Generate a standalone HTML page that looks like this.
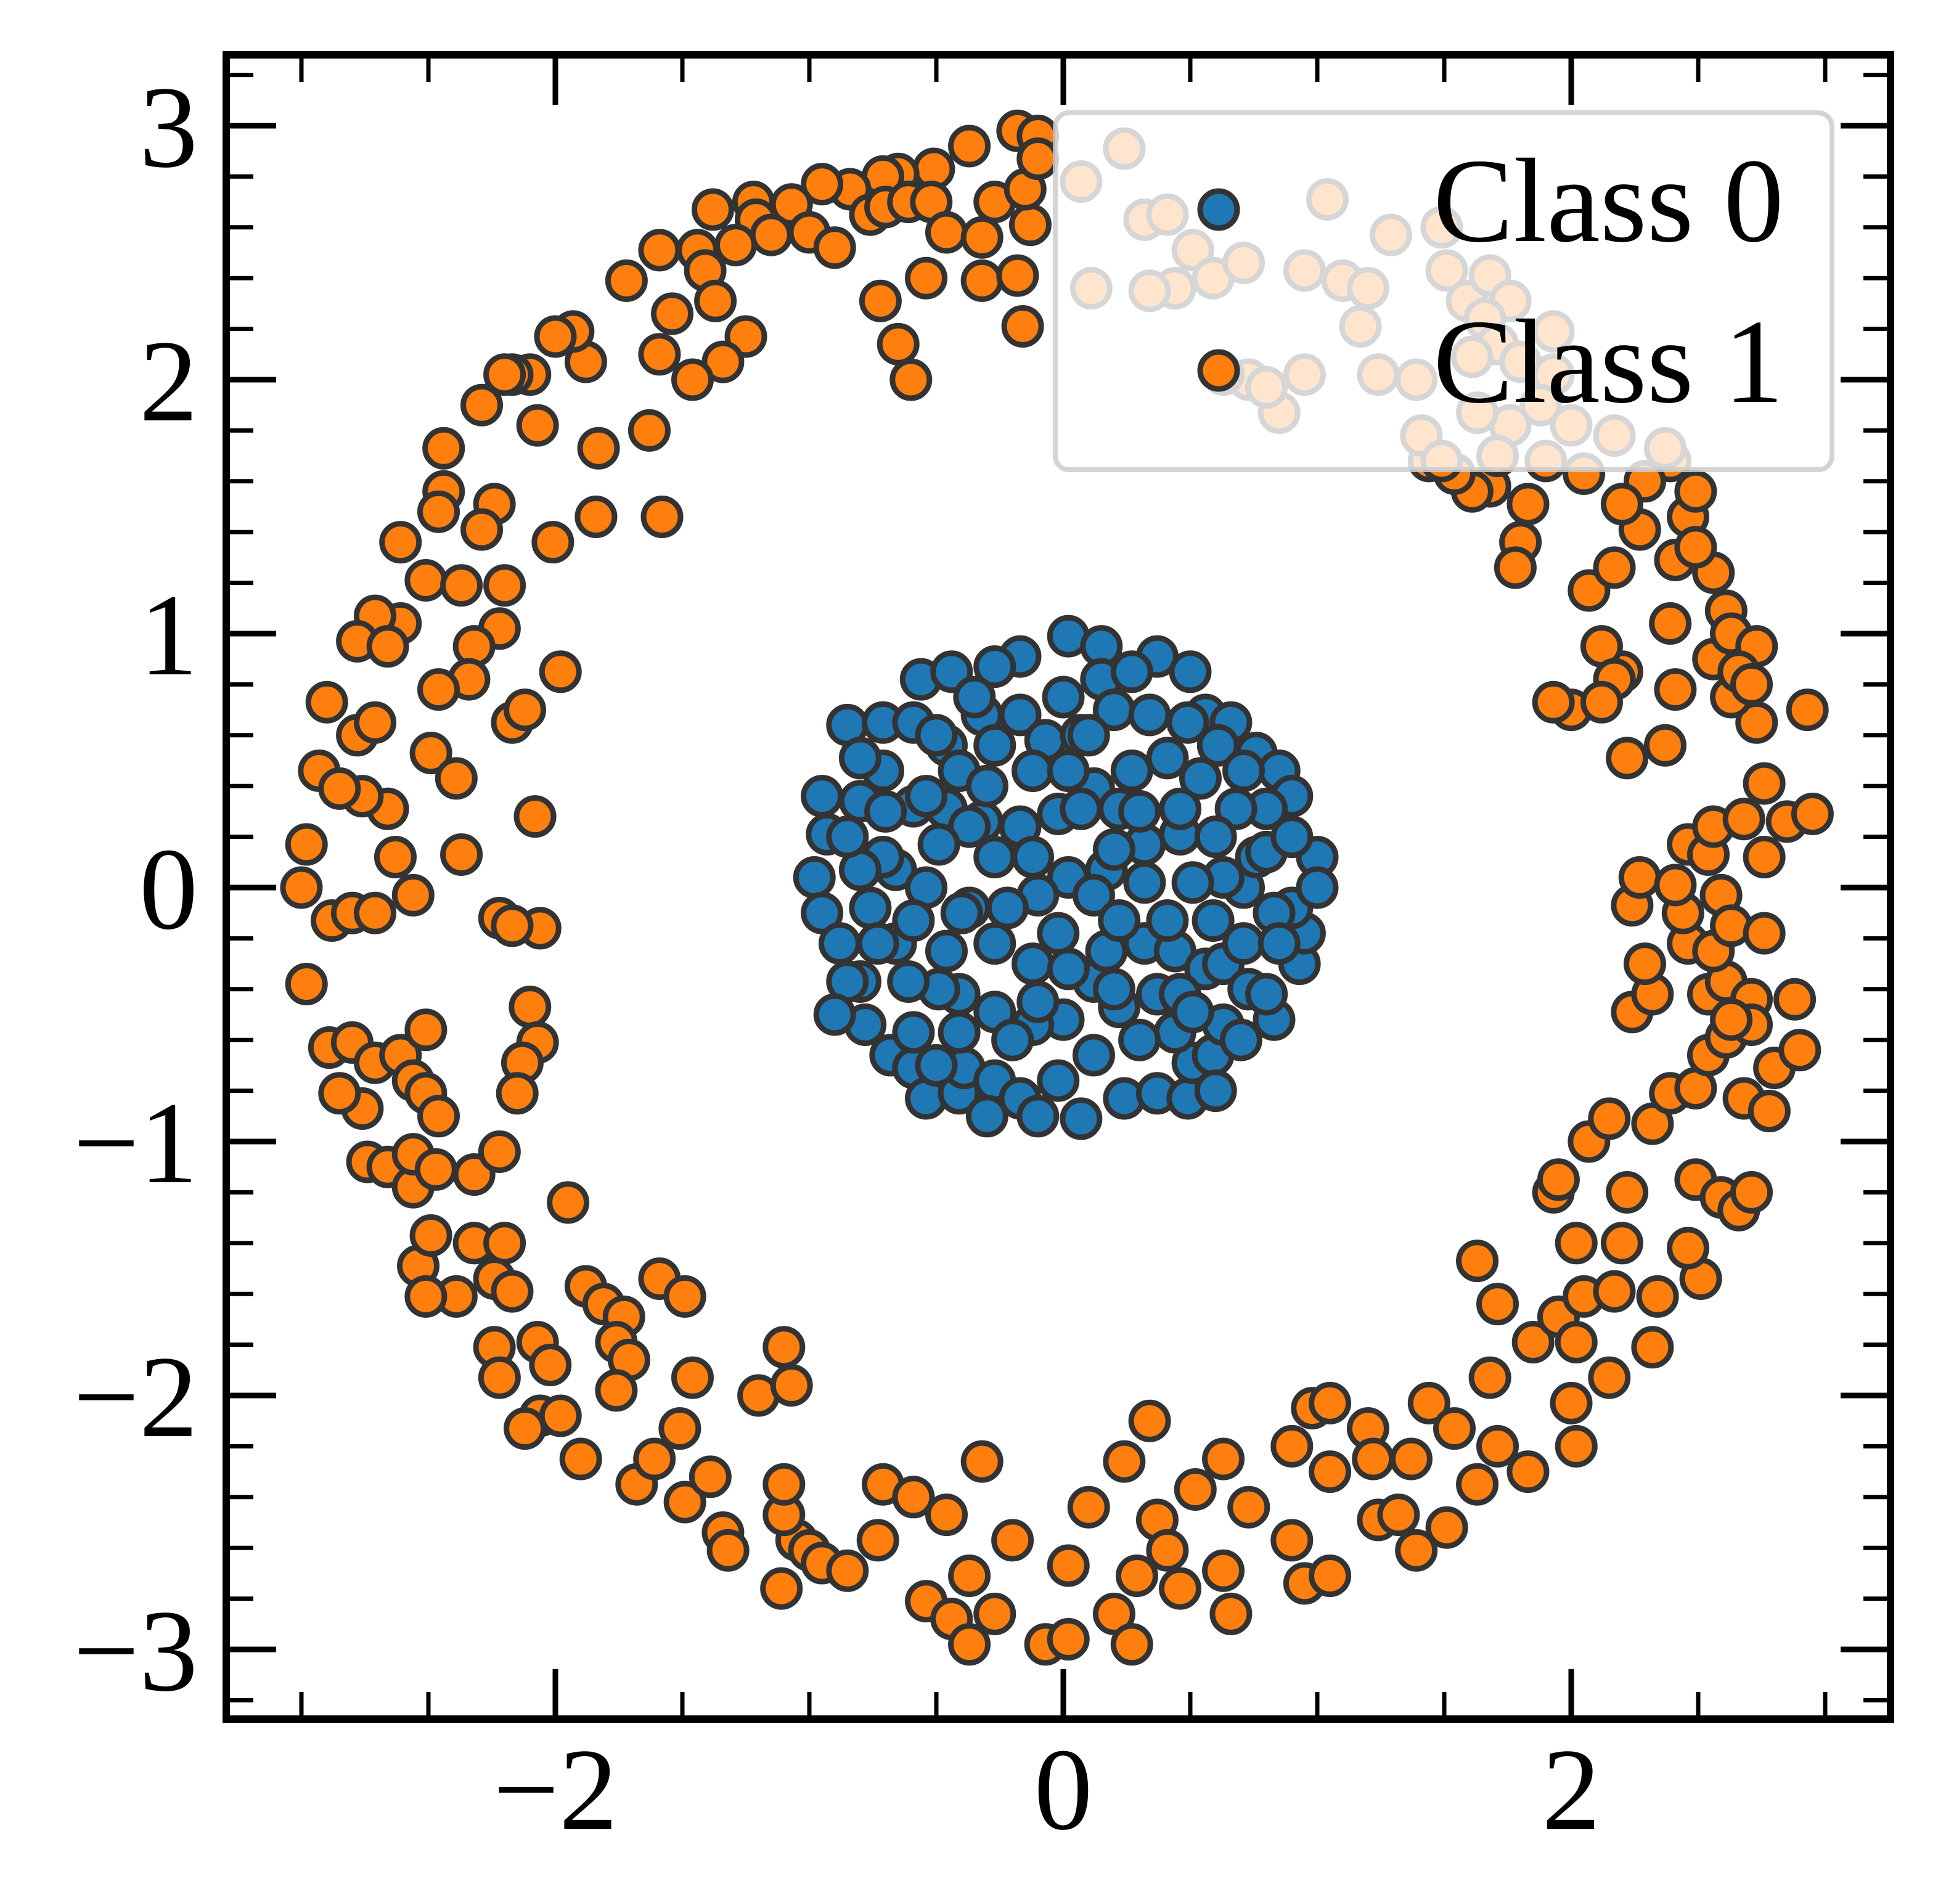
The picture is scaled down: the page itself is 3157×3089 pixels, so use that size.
<!DOCTYPE html>
<html><head><meta charset="utf-8"><style>html,body{margin:0;padding:0;background:#fff}svg{display:block}</style></head>
<body>
<svg id="chart" xmlns="http://www.w3.org/2000/svg" width="3157" height="3089" viewBox="0 0 3157 3089">
<rect width="3157" height="3089" fill="#fff"/>
<defs><clipPath id="clip"><rect x="367" y="89" width="2700" height="2700"/></clipPath></defs>
<g id="marks" clip-path="url(#clip)"></g>
<g id="axes"></g>
<g id="legend">
<rect x="1712" y="183" width="1260" height="579" rx="22" fill="#fff" fill-opacity="0.8" stroke="#cccccc" stroke-opacity="0.85" stroke-width="8"/>
<circle cx="1977" cy="340" r="30" fill="#1f77b4" stroke="#333" stroke-width="9"/>
<text x="2325" y="391" font-family="Liberation Serif, serif" font-size="195">Class 0</text>
<circle cx="1977" cy="601" r="30" fill="#ff7f0e" stroke="#333" stroke-width="9"/>
<text x="2325" y="652" font-family="Liberation Serif, serif" font-size="195">Class 1</text>
</g>
</svg>
<script>
const class0X=[0.37,-0.17,-0.27,-0.56,-0.44,0.02,0.15,0.15,0.27,-0.85,-0.71,-0.59,-0.46,-0.32,-0.17,-0.07,0.07,0.20,0.34,0.56,0.66,0.76,0.85,0.90,0.80,0.68,0.54,0.41,0.27,0.12,-0.02,-0.17,-0.32,-0.46,-0.59,-0.80,-0.95,-0.93,-0.98,-0.95,-0.88,-0.80,-0.78,-0.68,-0.59,-0.54,-0.41,-0.39,-0.27,-0.17,-0.02,0.07,0.24,0.37,0.49,0.51,0.59,0.44,0.37,0.22,0.12,0.00,-0.12,-0.27,-0.41,-0.49,-0.61,-0.66,-0.76,-0.66,-0.54,-0.37,-0.27,-0.12,0.02,0.17,0.32,0.44,0.56,0.63,0.73,0.83,0.93,0.95,0.90,0.83,0.71,0.63,0.76,0.80,1.00,1.00,0.46,0.32,0.17,0.02,-0.12,-0.27,-0.37,-0.49,-0.54,-0.71,-0.80,-0.71,-0.59,-0.46,0.12,0.22,0.41,0.51,0.32,0.59,0.46,0.71,0.85,-0.10,-0.22,-0.02,0.07,-0.12,-0.27,0.02,0.22,0.46,0.61,0.71,0.49,-0.41,-0.73,-0.80,-0.85,-0.59,-0.41,0.12,0.63,0.80,0.51,-0.30,0.10,-0.50,0.60,-0.20,0.30,-0.40,0.20,0.70,-0.70,0.50,-0.35,0.00,-0.85,-0.90,0.90,0.30,-0.10,0.60,-0.10,-0.30,0.20,-0.50];
const class0Y=[0.91,0.91,0.87,0.82,0.85,0.99,0.95,0.82,0.85,0.64,0.65,0.65,0.56,0.68,0.68,0.58,0.60,0.70,0.68,0.68,0.65,0.53,0.46,0.36,0.31,0.31,0.43,0.51,0.46,0.39,0.29,0.24,0.26,0.31,0.32,0.34,0.36,0.21,0.04,-0.10,-0.22,-0.37,-0.54,-0.66,-0.71,-0.83,-0.81,-0.71,-0.76,-0.83,-0.76,-0.91,-0.83,-0.81,-0.83,-0.69,-0.66,-0.57,-0.42,-0.47,-0.37,-0.52,-0.54,-0.49,-0.42,-0.40,-0.37,-0.22,-0.08,0.07,0.00,-0.08,-0.22,-0.30,-0.32,-0.25,-0.22,-0.25,-0.32,-0.30,-0.40,-0.52,-0.30,-0.18,-0.08,-0.10,0.00,0.04,0.12,0.14,0.12,0.00,0.21,0.17,0.07,0.04,0.12,0.12,0.24,0.17,0.36,0.46,0.51,0.12,-0.13,-0.25,-0.03,-0.13,-0.13,0.02,0.02,-0.13,-0.42,-0.22,-0.22,-0.03,-0.08,-0.18,0.31,0.46,0.56,0.46,0.31,0.31,0.56,0.46,0.65,0.46,-0.22,0.07,-0.37,-0.57,-0.57,-0.66,-0.54,-0.42,-0.49,0.40,0.60,0.60,0.20,-0.60,-0.60,-0.10,-0.40,-0.60,0.30,0.85,0.75,0.75,0.20,-0.50,0.20,0.30,-0.45,-0.80,-0.90,-0.90,0.15,-0.70];
const class1X=[-0.18,-0.10,-0.37,-0.51,-0.65,-0.71,-0.84,-0.95,-1.07,-1.22,-1.21,-1.15,-1.00,-0.90,-0.76,-0.70,-0.61,-0.52,-0.46,-0.32,-0.27,-0.13,-0.15,-0.10,-0.16,-0.60,-0.65,-0.72,-0.54,-0.32,-0.18,-1.38,-1.29,-1.44,-1.59,-1.72,-1.54,-1.41,-1.25,-1.37,-1.34,-1.46,-1.59,-1.63,-1.83,-1.88,-1.93,-2.00,-2.10,-2.17,-2.07,-2.29,-2.20,-2.44,-2.44,-2.46,-2.24,-2.29,-2.61,-2.51,-2.37,-2.20,-2.22,-2.32,-2.34,-2.46,-2.61,-2.71,-2.78,-2.66,-2.90,-2.93,-2.78,-2.71,-2.49,-2.39,-2.17,-2.12,-1.98,-1.84,-1.58,-2.01,-2.66,-2.63,-2.76,-2.85,-2.98,-3.00,-2.88,-2.80,-2.71,-2.56,-2.37,-2.08,-2.22,-2.06,-2.17,-2.98,-2.89,-2.80,-2.71,-2.61,-2.51,-2.56,-2.76,-2.85,-2.74,-2.66,-2.56,-2.51,-2.46,-2.56,-2.47,-2.32,-2.22,-2.10,-2.07,-2.13,-2.15,-1.95,-2.54,-2.49,-2.32,-2.20,-2.24,-2.17,-2.39,-2.51,-2.24,-2.22,-2.07,-2.02,-2.06,-2.12,-1.98,-1.90,-1.88,-1.81,-1.73,-1.76,-1.71,-1.76,-1.59,-1.49,-1.46,-1.51,-1.68,-1.61,-1.49,-1.39,-1.34,-1.32,-1.11,-1.05,-1.00,-1.10,-1.10,-1.20,-1.07,-1.10,-0.95,-0.85,-0.73,-0.71,-0.59,-0.54,-0.44,-0.37,-0.27,-0.37,-0.46,-0.32,-0.20,-0.07,0.02,0.02,0.10,0.24,0.34,0.37,0.41,0.29,0.20,0.27,0.46,0.52,0.63,0.63,0.66,0.73,0.90,0.95,1.05,1.05,0.90,0.98,1.05,1.20,1.22,1.24,1.32,1.39,1.37,1.44,1.54,1.51,1.63,1.71,1.83,1.63,1.68,1.71,1.85,1.95,2.05,2.02,2.00,2.02,2.15,2.17,2.20,2.22,2.32,2.34,2.51,2.46,2.02,1.93,1.95,2.07,2.15,2.49,2.59,2.66,2.71,2.32,2.39,2.49,2.54,2.61,2.68,2.78,2.80,2.90,2.88,2.24,2.32,2.29,2.46,2.54,2.61,2.71,2.71,2.63,2.56,2.44,2.59,2.63,2.76,2.24,2.27,2.41,2.46,2.54,2.56,2.68,2.76,2.85,2.95,2.93,2.76,2.73,2.63,2.56,2.56,2.41,2.39,2.41,2.37,2.22,2.20,2.12,2.07,2.00,1.93,2.17,2.27,2.46,2.49,2.39,2.29,2.20,2.05,1.83,1.80,1.78,1.68,1.61,1.54,1.44,2.61,2.63,2.73,2.66,2.71,2.49,2.17,2.12,0.07,0.11,0.24,0.32,0.41,0.51,0.44,0.34,0.59,0.71,0.73,0.85,0.95,0.95,1.04,1.10,1.20,1.17,1.29,1.24,1.39,1.51,1.59,1.68,1.76,1.66,1.71,1.61,1.80,1.93,1.93,1.88,1.76,1.63,2.00,2.17,2.37,1.41,1.49,0.63,1.90,1.71,1.49,0.80];
const class1Y=[2.98,2.96,2.92,2.83,2.81,2.80,2.75,2.77,2.69,2.70,2.63,2.57,2.58,2.52,2.65,2.68,2.70,2.70,2.58,2.56,2.70,2.61,2.75,2.87,2.21,2.00,2.14,2.31,2.40,2.39,2.41,2.67,2.53,2.51,2.51,2.39,2.26,2.43,2.17,2.31,2.07,2.00,2.10,1.80,1.73,2.07,2.19,2.17,2.02,2.02,1.82,1.90,2.02,1.73,1.56,1.48,1.51,1.41,1.36,1.21,1.19,1.19,1.02,0.95,0.82,0.78,1.04,1.07,0.97,0.95,0.73,0.46,0.60,0.65,0.53,0.43,0.65,0.70,0.85,1.46,1.46,1.36,0.31,0.12,0.36,0.39,0.17,0.00,-0.13,-0.10,-0.10,-0.03,0.13,0.28,-0.12,-0.16,-0.15,-0.38,-0.63,-0.61,-0.69,-0.66,-0.56,-0.76,-0.87,-0.81,-1.08,-1.10,-1.18,-0.81,-0.90,-1.05,-1.11,-1.13,-1.04,-0.47,-0.61,-0.69,-0.81,-1.24,-1.49,-1.37,-1.40,-1.40,-1.54,-1.59,-1.61,-1.61,-1.81,-1.93,-1.79,-1.88,-2.08,-2.13,-2.08,-2.25,-1.57,-1.64,-1.69,-1.79,-1.86,-1.98,-1.54,-1.61,-1.93,-2.13,-2.35,-2.25,-2.42,-2.32,-2.54,-2.61,-2.76,-2.57,-2.61,-2.47,-2.35,-2.00,-1.96,-1.81,-2.66,-2.69,-2.57,-2.35,-2.40,-2.81,-2.88,-2.98,-2.86,-2.71,-2.47,-2.26,-2.57,-2.98,-2.96,-2.67,-2.44,-2.26,-2.10,-2.49,-2.61,-2.71,-2.86,-2.98,-2.76,-2.37,-2.25,-2.69,-2.86,-2.44,-2.57,-2.74,-2.71,-2.30,-2.20,-2.05,-2.03,-2.13,-2.25,-2.49,-2.47,-2.61,-2.25,-2.03,-2.13,-2.52,-2.35,-2.20,-2.30,-1.47,-1.93,-1.64,-1.79,-1.69,-1.61,-1.79,-2.03,-2.20,-1.93,-1.59,-1.40,-1.20,-1.81,-1.61,-1.54,-1.42,-1.40,-1.20,-1.15,-1.00,-0.91,-1.15,-1.22,-1.27,-1.20,-0.93,-0.81,-0.79,-0.66,-0.59,-0.83,-0.88,-0.71,-0.64,-0.44,-0.49,-0.42,-0.30,-0.22,-0.42,-0.37,-0.44,-0.54,-0.52,-0.25,-0.10,-0.03,-0.15,-0.18,-0.07,0.04,0.01,0.17,0.13,0.24,0.27,0.12,0.26,0.29,0.70,0.41,0.65,0.75,0.90,1.24,1.29,1.04,0.78,0.56,0.51,0.85,0.95,1.17,0.70,0.73,1.26,1.41,1.46,1.56,1.68,1.60,1.51,1.63,1.51,1.36,1.26,1.58,1.56,1.63,1.68,1.09,1.00,0.95,0.85,0.80,1.34,0.82,0.73,2.78,2.36,2.91,2.63,2.65,2.51,2.36,2.35,2.40,2.46,2.00,1.87,2.02,2.43,2.71,2.39,2.36,2.21,2.57,2.02,2.00,2.43,2.31,2.41,2.31,2.24,2.14,2.09,2.07,2.02,2.19,1.90,1.82,1.87,1.82,1.78,1.73,1.78,2.60,2.02,1.68,1.70,1.68,1.97];
const xTickValues=[-2,0,2];
const xTickLabels=["\u22122","0","2"];
const yTickValues=[-3,-2,-1,0,1,2,3];
const yTickLabels=["\u22123","\u22122","\u22121","0","1","2","3"];

const NS="http://www.w3.org/2000/svg";
const X0=1725,Y0=1440,S=412,L=367,R=3067,T=89,B=2789;
function sx(v){return X0+S*v;}
function sy(v){return Y0-S*v;}
function mk(tag,attrs,parent){const e=document.createElementNS(NS,tag);for(const k in attrs)e.setAttribute(k,attrs[k]);parent.appendChild(e);return e;}
const marks=document.getElementById('marks');
const axes=document.getElementById('axes');
for(let i=0;i<class0X.length;i++){
  const c=mk('circle',{cx:sx(class0X[i]),cy:sy(class0Y[i]),r:30,fill:'#1f77b4',stroke:'#333333','stroke-width':9},marks);
  
  
}
for(let i=0;i<class1X.length;i++){
  const c=mk('circle',{cx:sx(class1X[i]),cy:sy(class1Y[i]),r:30,fill:'#ff7f0e',stroke:'#333333','stroke-width':9},marks);
  
  
}
for(let k=-6;k<=6;k++){
  const v=k*0.5; if(xTickValues.includes(v)) continue;
  const x=sx(v);
  const t1=mk('line',{x1:x,y1:B,x2:x,y2:B-44,stroke:'#000','stroke-width':7},axes);
  
  
  const t2=mk('line',{x1:x,y1:T,x2:x,y2:T+44,stroke:'#000','stroke-width':7},axes);
  
  
}
for(let k=-16;k<=16;k++){
  if(k%5===0) continue;
  const y=sy(k*0.2);
  const t1=mk('line',{x1:L,y1:y,x2:L+44,y2:y,stroke:'#000','stroke-width':7},axes);
  
  
  const t2=mk('line',{x1:R,y1:y,x2:R-44,y2:y,stroke:'#000','stroke-width':7},axes);
  
  
}
for(let i=0;i<xTickValues.length;i++){
  const x=sx(xTickValues[i]);
  const t1=mk('line',{x1:x,y1:B,x2:x,y2:B-81,stroke:'#000','stroke-width':9},axes);
  
  
  const t2=mk('line',{x1:x,y1:T,x2:x,y2:T+81,stroke:'#000','stroke-width':9},axes);
  
  
  const lb=mk('text',{x:x,y:2967,'text-anchor':'middle','font-family':'Liberation Serif, serif','font-size':190},axes);
  lb.textContent=xTickLabels[i];
  
  
}
for(let i=0;i<yTickValues.length;i++){
  const y=sy(yTickValues[i]);
  const t1=mk('line',{x1:L,y1:y,x2:L+81,y2:y,stroke:'#000','stroke-width':9},axes);
  
  
  const t2=mk('line',{x1:R,y1:y,x2:R-81,y2:y,stroke:'#000','stroke-width':9},axes);
  
  
  const lb=mk('text',{x:321,y:y+66,'text-anchor':'end','font-family':'Liberation Serif, serif','font-size':190},axes);
  lb.textContent=yTickLabels[i];
  
  
}
const frame=mk('rect',{x:L,y:T,width:R-L,height:B-T,fill:'none',stroke:'#000','stroke-width':12},axes);


</script>
</body></html>
